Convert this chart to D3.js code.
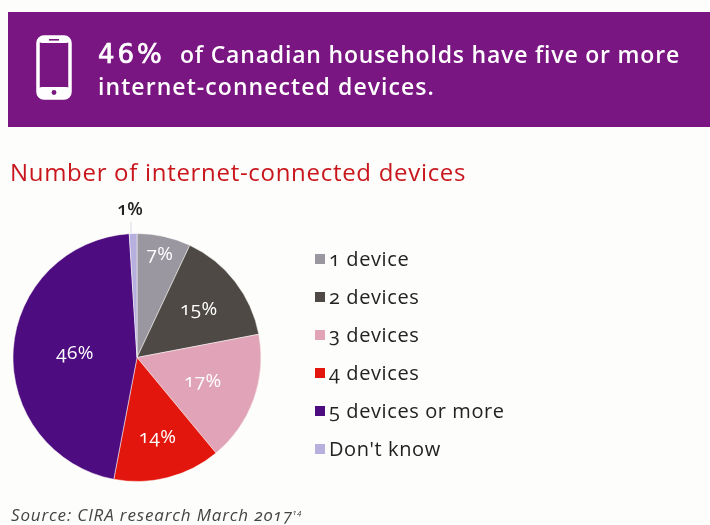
<!DOCTYPE html>
<html><head><meta charset="utf-8">
<script src="https://cdn.jsdelivr.net/npm/d3@7"></script>
<style>
html,body{margin:0;padding:0;background:#fdfdfb}
svg{display:block}
text{font-family:"Open Sans",sans-serif;font-feature-settings:"onum" 1}
</style></head><body><div id="c"></div>
<script>
const categories=["1 device","2 devices","3 devices","4 devices","5 devices or more","Don't know"];
const values=[7,15,17,14,46,1];
const labels=["7%","15%","17%","14%","46%","1%"];
const colors=["#9a97a0","#4f4a45","#e0a3b8","#e2190f","#4d0a80","#b7b0de"];
const W=710,H=525;
const svg=d3.select("#c").append("svg").attr("width",W).attr("height",H);
const defs=svg.append("defs");
defs.append("filter").attr("id","soft").append("feGaussianBlur").attr("stdDeviation",0.4);
const root=svg.append("g").attr("filter","url(#soft)");

// banner
root.append("rect").attr("x",8).attr("y",12).attr("width",702).attr("height",115).attr("fill","#7a1482");
const phone=root.append("g").attr("transform","translate(36,35)");
phone.append("rect").attr("x",2).attr("y",2).attr("width",32).attr("height",61).attr("rx",6).attr("fill","none").attr("stroke","#fff").attr("stroke-width",3.5);
phone.append("rect").attr("x",2).attr("y",52).attr("width",32).attr("height",11).attr("rx",4).attr("fill","#fff");
phone.append("rect").attr("x",3).attr("y",2).attr("width",30).attr("height",6).attr("rx",3).attr("fill","#fff");
phone.append("rect").attr("x",13).attr("y",4).attr("width",10).attr("height",1.6).attr("fill","#7a1482");
phone.append("circle").attr("cx",18).attr("cy",57.5).attr("r",2.4).attr("fill","#7a1482");

root.append("text").attr("x",98).attr("y",63).attr("fill","#fff").attr("stroke","#fff").attr("stroke-width",0.7)
  .style("font-family","'DejaVu Sans',sans-serif").attr("font-size",26).attr("letter-spacing",3).text("46%");
root.append("text").attr("x",180).attr("y",63).attr("fill","#fff").attr("font-weight",600).attr("font-size",23).attr("letter-spacing",0.8).text("of Canadian households have five or more");
root.append("text").attr("x",98).attr("y",94.5).attr("fill","#fff").attr("font-weight",600).attr("font-size",23).attr("letter-spacing",1.07).text("internet-connected devices.");

// chart title
root.append("text").attr("x",10).attr("y",181).attr("fill","#c8171e").attr("font-size",24).attr("letter-spacing",0.7).text("Number of internet-connected devices");

// pie
const cx=137,cy=357.5,r=124;
const pie=d3.pie().sort(null).value(d=>d)(values);
const arc=d3.arc().innerRadius(0).outerRadius(r);
const pg=root.append("g").attr("transform",`translate(${cx},${cy})`);
pg.selectAll("path").data(pie).join("path").attr("d",arc).attr("fill",(d,i)=>colors[i])
  .attr("stroke","#fdfdfb").attr("stroke-width",0.5);
const labelRadius=[0.85,0.63,0.565,0.665,0.5];
pg.selectAll("text.v").data(pie.slice(0,5)).join("text").attr("class","v")
  .attr("transform",(d,i)=>{const a=(d.startAngle+d.endAngle)/2,q=r*labelRadius[i];return `translate(${Math.sin(a)*q},${-Math.cos(a)*q})`;})
  .attr("text-anchor","middle").attr("dy","0.3em").attr("fill","#fff").attr("font-size",19).attr("letter-spacing",0.4).text((d,i)=>labels[i]);
root.append("text").attr("x",130).attr("y",215).attr("text-anchor","middle").attr("font-size",18).attr("font-weight",600).attr("fill","#222").text(labels[5]);
root.append("line").attr("x1",131).attr("x2",131).attr("y1",222).attr("y2",233).attr("stroke","#d8d8e4").attr("stroke-width",1);

// legend
const y=d3.scalePoint().domain(categories).range([259,449]);
const lg=root.selectAll("g.l").data(categories).join("g").attr("class","l").attr("transform",d=>`translate(315,${y(d)})`);
lg.append("rect").attr("y",-5).attr("width",10).attr("height",10).attr("fill",(d,i)=>colors[i]);
lg.append("text").attr("x",14).attr("dy","0.34em").attr("font-size",20).attr("letter-spacing",0.6).attr("fill","#222").text(d=>d);

// source
root.append("text").attr("x",11).attr("y",521).attr("font-size",17).attr("font-style","italic").attr("letter-spacing",0.85).attr("fill","#444")
  .text("Source: CIRA research March 2017").append("tspan").attr("dy",-6).attr("font-size",8).text("14");
</script></body></html>
